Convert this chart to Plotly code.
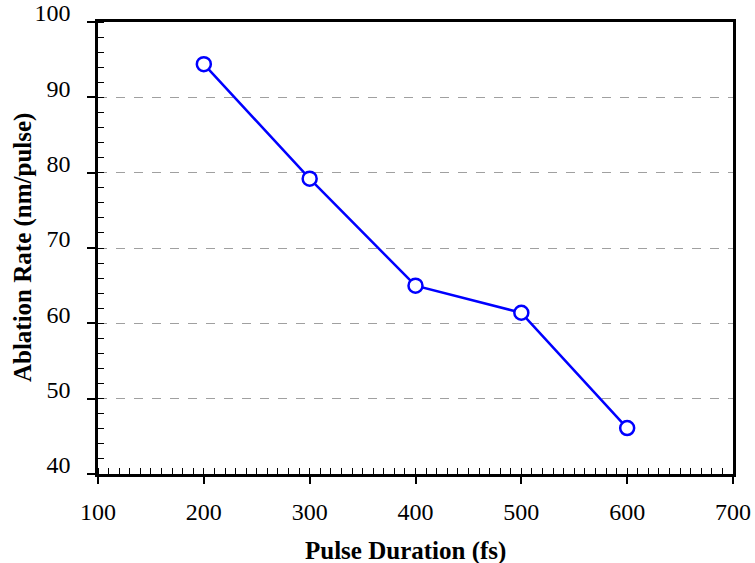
import plotly.graph_objects as go

pulse_duration = [200, 300, 400, 500, 600]
ablation_rate = [94.4, 79.2, 65.0, 61.4, 46.1]
x_ticks = [100, 200, 300, 400, 500, 600, 700]
y_ticks = [40, 50, 60, 70, 80, 90, 100]
x_title = "Pulse Duration (fs)"
y_title = "Ablation Rate (nm/pulse)"

fig = go.Figure()
fig.add_trace(go.Scatter(
    x=pulse_duration, y=ablation_rate, mode="lines+markers",
    line=dict(color="#0000ff", width=2.5),
    marker=dict(symbol="circle", size=14, color="white",
                line=dict(color="#0000ff", width=2.5)),
    showlegend=False,
))

font_family = "Liberation Serif, Times New Roman, serif"
fig.update_layout(
    width=755, height=563,
    margin=dict(l=98, r=22, t=22, b=89, autoexpand=False),
    paper_bgcolor="white", plot_bgcolor="white",
    font=dict(family=font_family, size=24, color="black"),
    xaxis=dict(
        range=[100, 700], tickvals=x_ticks, ticks="outside", ticklen=7, tickwidth=1.5,
        tickcolor="black", showline=True, linecolor="black", linewidth=2.5, mirror=True,
        showgrid=False, zeroline=False, ticklabelstandoff=7, automargin=False,
        minor=dict(dtick=10, ticks="inside", ticklen=6, tickwidth=1, tickcolor="black", showgrid=False),
        tickfont=dict(family=font_family, size=24),
    ),
    yaxis=dict(
        range=[40, 100], tickvals=y_ticks, ticktext=[str(v) + "\u00a0\u00a0" for v in y_ticks],
        ticks="outside", ticklen=8, tickwidth=1.5,
        tickcolor="black", showline=True, linecolor="black", linewidth=2.5, mirror=True,
        showgrid=True, gridcolor="#a0a0a0", griddash="dash", gridwidth=1, zeroline=False,
        ticklabelshift=-9, automargin=False,
        minor=dict(dtick=2, ticks="inside", ticklen=6, tickwidth=1, tickcolor="black", showgrid=False),
        tickfont=dict(family=font_family, size=24),
    ),
    annotations=[
        dict(text="<b>" + x_title + "</b>", xref="paper", yref="paper",
             x=0.4835, y=-0.170, xanchor="center", yanchor="middle", showarrow=False,
             font=dict(family=font_family, size=25)),
        dict(text="<b>" + y_title + "</b>", xref="paper", yref="paper",
             x=-0.118, y=0.5, xanchor="center", yanchor="middle", showarrow=False,
             textangle=-90, font=dict(family=font_family, size=25)),
    ],
)
fig.write_html("out.html")
